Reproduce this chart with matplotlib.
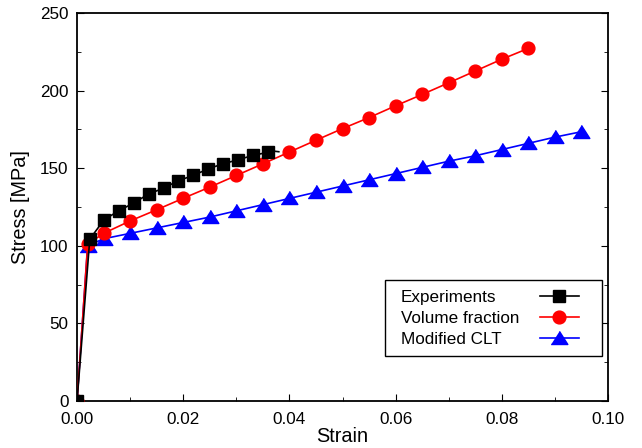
import matplotlib
matplotlib.use('Agg')
import matplotlib.pyplot as plt
from matplotlib.ticker import MultipleLocator, FormatStrFormatter
from matplotlib.offsetbox import DrawingArea

plt.rcParams['font.family'] = ['Liberation Sans', 'DejaVu Sans']

# Experiments
exp_strain = [0.0, 0.0024, 0.0051, 0.0079, 0.0107, 0.0135, 0.0163, 0.0191,
              0.0219, 0.0247, 0.0275, 0.0303, 0.0331, 0.0359]
exp_stress = [0, 104.3, 116.8, 122.6, 127.6, 133.4, 137.1, 142.0,
              145.3, 149.6, 152.8, 155.4, 158.2, 160.2]
exp_tail_strain = [0.0359, 0.0370, 0.0380]
exp_tail_stress = [160.2, 161.0, 160.6]

# Volume fraction model
vf_strain = [0.0, 0.002, 0.005, 0.010, 0.015, 0.020, 0.025, 0.030, 0.035, 0.040,
             0.045, 0.050, 0.055, 0.060, 0.065, 0.070, 0.075, 0.080, 0.085]
vf_stress = [0, 101, 108, 116, 123.2, 130.6, 137.8, 145.3, 152.8, 160.4,
             168, 175.5, 182.6, 190.2, 197.5, 205, 212.6, 220.2, 227.2]

# Modified CLT model
clt_strain = [0.0, 0.002, 0.005, 0.010, 0.015, 0.020, 0.025, 0.030, 0.035, 0.040,
              0.045, 0.050, 0.055, 0.060, 0.065, 0.070, 0.075, 0.080, 0.085,
              0.090, 0.095]
clt_stress = [0, 100, 104.5, 108, 111.5, 115, 118.5, 122.5, 126.5, 130.5,
              134.5, 138.5, 142.5, 146.5, 150.5, 154.5, 158, 162, 166,
              170, 173.5]

# wide, flat triangle like the original
tri = [(-1, -0.72), (1, -0.72), (0, 0.85)]

fig = plt.figure(figsize=(6.42, 4.48), dpi=100)
ax = fig.add_axes([0.120, 0.105, 0.827, 0.866])

ax.plot(exp_tail_strain, exp_tail_stress, '-', color='black', lw=1.2)
ax.plot(exp_strain, exp_stress, '-s', color='black', lw=1.2, ms=9.3,
        label='Experiments', zorder=4)
ax.plot(vf_strain, vf_stress, '-o', color='red', lw=1.2, ms=9.2,
        label='Volume fraction', zorder=3)
ax.plot(clt_strain, clt_stress, '-', marker=tri, color='blue', lw=1.2, ms=12,
        label='Modified CLT', zorder=2)

ax.set_xlim(0, 0.10)
ax.set_ylim(0, 250)
ax.xaxis.set_major_locator(MultipleLocator(0.02))
ax.xaxis.set_minor_locator(MultipleLocator(0.01))
ax.yaxis.set_major_locator(MultipleLocator(50))
ax.yaxis.set_minor_locator(MultipleLocator(25))
ax.xaxis.set_major_formatter(FormatStrFormatter('%.2f'))
ax.tick_params(which='both', direction='in', right=True, top=False,
               labelsize=12.3)
ax.tick_params(which='major', length=5)
ax.tick_params(which='minor', length=3)
ax.tick_params(axis='x', pad=8)
ax.tick_params(axis='y', pad=6)
for s in ax.spines.values():
    s.set_linewidth(1.3)

ax.set_xlabel('Strain', fontsize=14.3, labelpad=0)
ax.set_ylabel('Stress [MPa]', fontsize=14.3, labelpad=7)

leg_fs = 12.3
leg = ax.legend(loc='lower right', bbox_to_anchor=(0.989, 0.116),
                markerfirst=False, fontsize=leg_fs, fancybox=False,
                edgecolor='black', framealpha=1, handlelength=3.1,
                borderpad=0.55, labelspacing=0.35, handletextpad=1.2,
                borderaxespad=0)
leg.get_frame().set_linewidth(1.0)

# left-align the labels while keeping the samples in one column,
# and leave extra room on both sides like the original box
fig.canvas.draw()
renderer = fig.canvas.get_renderer()
hbox = leg._legend_handle_box
col = hbox.get_children()[0]
col.align = 'left'
rows = col.get_children()
widths = [r.get_children()[0].get_bbox(renderer).width for r in rows]
line_len = 2.3 * leg_fs
for r, w in zip(rows, widths):
    r.sep += (max(widths) - w) * 72 / fig.dpi
    for art in r.get_children()[1].get_children():
        if len(art.get_xdata()) == 3:
            art.set_xdata([0, line_len / 2, line_len])
hbox.sep = 0
hbox._children.insert(0, DrawingArea(5, 1))

plt.savefig('out.png', dpi=100)
